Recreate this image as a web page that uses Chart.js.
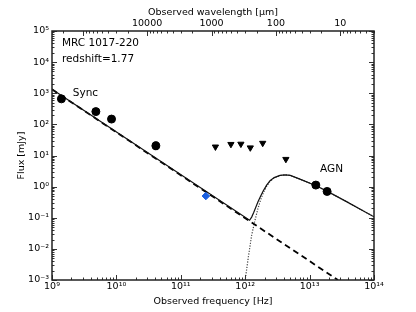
<!DOCTYPE html>
<html>
<head>
<meta charset="utf-8">
<script src="https://cdn.jsdelivr.net/npm/chart.js@4.4.1/dist/chart.umd.min.js"></script>
<style>
  body { margin: 0; background: #fff; }
  canvas { display: block; }
</style>
</head>
<body>
<canvas id="sed" width="416" height="312"></canvas>
<script>
// photometry (mJy)
const detFreq = [1.4e9, 4.8e9, 8.4e9, 4.1e10, 1.25e13, 1.87e13];
const detFlux = [660, 257, 148, 20.5, 1.12, 0.70];
const detErrLow = [null, null, null, 15.5, null, null];
const detErrHigh = [null, null, null, 27, null, null];

const mmFreq = [2.45e11];
const mmFlux = [0.50];

const limFreq = [3.45e11, 6.0e11, 8.57e11, 1.2e12, 1.87e12, 4.28e12];
const limFlux = [19, 23, 23.4, 17.8, 25, 7.6];

// model curves
const syncFreq = [1e9, 2.75e13];
const syncFlux = [1334, 0.001];

const totalFreq = [1e9, 1.17e12, 1.26e12, 1.35e12, 1.45e12, 1.58e12, 1.74e12, 1.91e12, 2.14e12,
  2.43e12, 2.82e12, 3.47e12, 4.17e12, 5.01e12, 7.08e12, 1.29e13, 2.09e13, 3.80e13, 1e14];
const totalFlux = [1334, 0.083, 0.105, 0.145, 0.209, 0.324, 0.50, 0.74, 1.10,
  1.55, 1.95, 2.29, 2.40, 2.29, 1.74, 1.05, 0.63, 0.324, 0.107];

const agnFreq = [9.5e11, 1.0e12, 1.12e12, 1.26e12, 1.41e12, 1.58e12, 1.74e12, 1.91e12, 2.14e12,
  2.43e12, 2.82e12, 3.47e12, 4.17e12, 5.01e12, 7.08e12, 1.29e13, 2.09e13, 3.80e13, 1e14];
const agnFlux = [0.0005, 0.001, 0.0055, 0.0275, 0.079, 0.20, 0.38, 0.63, 1.0,
  1.48, 1.90, 2.27, 2.40, 2.29, 1.74, 1.05, 0.63, 0.324, 0.107];

// ticks
const freqTicks = [1e9, 1e10, 1e11, 1e12, 1e13, 1e14];
const fluxTicks = [1e-3, 1e-2, 1e-1, 1e0, 1e1, 1e2, 1e3, 1e4, 1e5];
const waveTicks = [10, 100, 1000, 10000];
const C_UM = 3e14; // speed of light in micron/s

const sup = { "-": "⁻", "0": "⁰", "1": "¹", "2": "²", "3": "³", "4": "⁴", "5": "⁵", "6": "⁶", "7": "⁷", "8": "⁸", "9": "⁹" };
const powLabel = (v) => "10" + String(Math.round(Math.log10(v))).split("").map((c) => sup[c]).join("");

const pts = (xs, ys) => xs.map((x, i) => ({ x: x, y: ys[i] }));
const FONT = "'DejaVu Sans', sans-serif";

const framePlugin = {
  id: "frame",
  afterDatasetsDraw(chart) {
    const { ctx, chartArea: a, scales } = chart;
    const x = scales.x, y = scales.y, x2 = scales.x2;
    ctx.save();

    // error bars
    detFreq.forEach((f, i) => {
      if (detErrLow[i] == null) return;
      const px = x.getPixelForValue(f);
      const y0 = y.getPixelForValue(detErrLow[i]);
      const y1 = y.getPixelForValue(detErrHigh[i]);
      ctx.strokeStyle = "#000";
      ctx.lineWidth = 1;
      ctx.beginPath();
      ctx.moveTo(px, y0); ctx.lineTo(px, y1);
      ctx.moveTo(px - 2, y0); ctx.lineTo(px + 2, y0);
      ctx.moveTo(px - 2, y1); ctx.lineTo(px + 2, y1);
      ctx.stroke();
    });

    ctx.strokeStyle = "#333";
    ctx.lineWidth = 1;
    const tick = (x0, y0, x1, y1) => {
      ctx.beginPath(); ctx.moveTo(x0, y0); ctx.lineTo(x1, y1); ctx.stroke();
    };
    // frequency ticks (bottom)
    for (let d = 9; d <= 14; d++) {
      for (let m = 1; m <= 9; m++) {
        const v = m * Math.pow(10, d);
        if (v > 1e14 * 1.001) break;
        const px = Math.round(x.getPixelForValue(v)) + 0.5;
        tick(px, a.bottom, px, a.bottom - (m === 1 ? 5 : 2.5));
      }
    }
    // wavelength ticks (top)
    for (let d = 0; d <= 5; d++) {
      for (let m = 1; m <= 9; m++) {
        const v = m * Math.pow(10, d);
        if (v < 3 || v > 3e5) continue;
        const px = Math.round(x2.getPixelForValue(v)) + 0.5;
        tick(px, a.top, px, a.top + (m === 1 ? 5 : 2.5));
      }
    }
    // flux ticks (left and right)
    for (let d = -3; d <= 5; d++) {
      for (let m = 1; m <= 9; m++) {
        const v = m * Math.pow(10, d);
        if (v > 1e5 * 1.001) break;
        const py = Math.round(y.getPixelForValue(v)) + 0.5;
        const len = m === 1 ? 5 : 2.5;
        tick(a.left, py, a.left + len, py);
        tick(a.right, py, a.right - len, py);
      }
    }
    // axes box
    ctx.lineWidth = 1.5;
    ctx.strokeStyle = "#222";
    ctx.strokeRect(a.left, a.top, a.right - a.left, a.bottom - a.top);

    // annotations
    ctx.fillStyle = "#000";
    ctx.textBaseline = "middle";
    ctx.textAlign = "left";
    ctx.font = "10.5px " + FONT;
    ctx.fillText("MRC 1017-220", a.left + 10, a.top + 12);
    ctx.fillText("redshift=1.77", a.left + 10, a.top + 28);
    ctx.fillText("Sync", x.getPixelForValue(2.1e9), y.getPixelForValue(1000));
    ctx.fillText("AGN", x.getPixelForValue(1.45e13), y.getPixelForValue(3.7));
    ctx.restore();
  },
};

const ctx = document.getElementById("sed");

new Chart(ctx, {
  data: {
    datasets: [
      {
        type: "scatter",
        data: pts(detFreq, detFlux),
        pointStyle: "circle",
        pointRadius: 4,
        backgroundColor: "#000",
        borderColor: "#000",
        order: 0,
      },
      {
        type: "scatter",
        data: pts(limFreq, limFlux),
        pointStyle: "triangle",
        rotation: 180,
        pointRadius: 3.6,
        backgroundColor: "#000",
        borderColor: "#000",
        order: 0,
      },
      {
        type: "scatter",
        data: pts(mmFreq, mmFlux),
        pointStyle: "rectRot",
        pointRadius: 3.8,
        backgroundColor: "#1a5fe0",
        borderColor: "#1a5fe0",
        order: 0,
      },
      {
        type: "line",
        data: pts(totalFreq, totalFlux),
        borderColor: "#111",
        borderWidth: 1.2,
        pointRadius: 0,
        tension: 0,
        order: 1,
      },
      {
        type: "line",
        data: pts(syncFreq, syncFlux),
        borderColor: "#000",
        borderWidth: 1.8,
        borderDash: [6, 4],
        pointRadius: 0,
        order: 2,
      },
      {
        type: "line",
        data: pts(agnFreq, agnFlux),
        borderColor: "#444",
        borderWidth: 1.2,
        borderDash: [1.2, 1.5],
        pointRadius: 0,
        tension: 0,
        order: 3,
      },
    ],
  },
  options: {
    responsive: false,
    animation: false,
    events: [],
    layout: { padding: { left: 0, right: 42, top: 0, bottom: 0 } },
    plugins: { legend: { display: false }, tooltip: { enabled: false } },
    scales: {
      x: {
        type: "logarithmic",
        position: "bottom",
        min: 1e9,
        max: 1e14,
        afterBuildTicks: (s) => { s.ticks = freqTicks.map((v) => ({ value: v, major: true })); },
        afterFit: (s) => { s.height = 32; },
        grid: { display: false, drawTicks: false },
        border: { display: false },
        ticks: {
          callback: (v) => powLabel(v),
          color: "#000",
          font: { family: FONT, size: 9.5 },
          padding: 1,
          maxRotation: 0,
          autoSkip: false,
        },
        title: {
          display: true,
          text: "Observed frequency [Hz]",
          color: "#000",
          font: { family: FONT, size: 9.5 },
          padding: { top: 0, bottom: 5 },
        },
      },
      x2: {
        type: "logarithmic",
        position: "top",
        reverse: true,
        min: C_UM / 1e14,
        max: C_UM / 1e9,
        afterBuildTicks: (s) => { s.ticks = waveTicks.map((v) => ({ value: v, major: true })); },
        afterFit: (s) => { s.height = 31; },
        grid: { display: false, drawTicks: false },
        border: { display: false },
        ticks: {
          callback: (v) => String(v),
          color: "#000",
          font: { family: FONT, size: 9.5 },
          padding: 1.5,
          maxRotation: 0,
          autoSkip: false,
        },
        title: {
          display: true,
          text: "Observed wavelength [μm]",
          color: "#000",
          font: { family: FONT, size: 9.5 },
          padding: { top: 7, bottom: 0 },
        },
      },
      y: {
        type: "logarithmic",
        position: "left",
        min: 1e-3,
        max: 1e5,
        afterBuildTicks: (s) => { s.ticks = fluxTicks.map((v) => ({ value: v, major: true })); },
        afterFit: (s) => { s.width = 52; },
        grid: { display: false, drawTicks: false },
        border: { display: false },
        ticks: {
          callback: (v) => powLabel(v),
          color: "#000",
          font: { family: FONT, size: 9.5 },
          padding: 3,
          autoSkip: false,
        },
        title: {
          display: true,
          text: "Flux [mJy]",
          color: "#000",
          font: { family: FONT, size: 9.5 },
          padding: { top: 16, bottom: 0 },
        },
      },
    },
  },
  plugins: [framePlugin],
});
</script>
</body>
</html>
